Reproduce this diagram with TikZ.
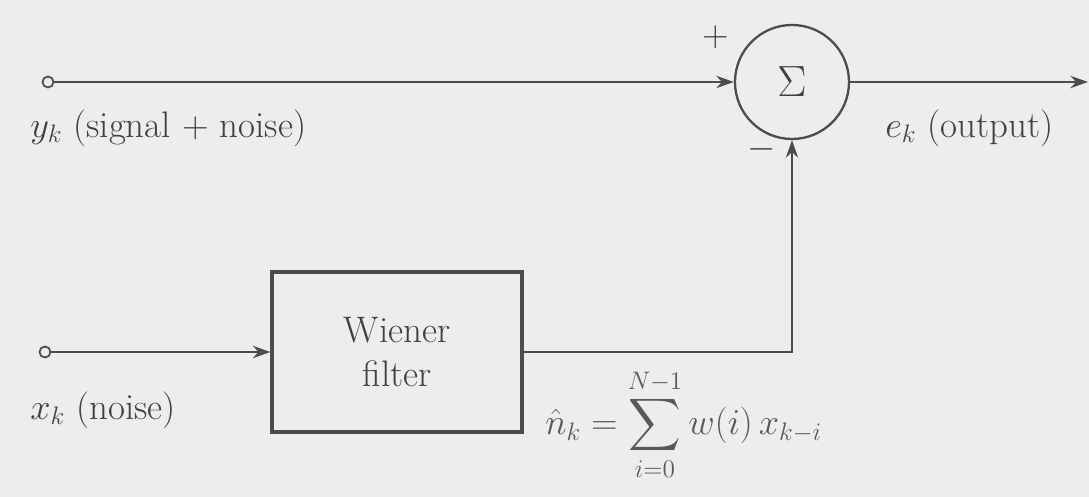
\documentclass[tikz,border=0pt]{standalone}
\usepackage{amsmath}
\usetikzlibrary{arrows.meta}

\tikzset{
  sig/.style={draw=black!70, line width=1.3pt, -{Stealth[length=10pt,width=7pt]}},
  term/.style={circle, draw=black!70, line width=1pt, inner sep=0pt, minimum size=0.22cm},
  lbl/.style={anchor=west, inner sep=0pt, text=black!75, font=\fontsize{21}{25}\selectfont},
}

\begin{document}
\begin{tikzpicture}
  % Background
  \fill[black!7] (0,0) rectangle (21.78,9.94);
  \useasboundingbox (0,0) rectangle (21.78,9.94);

  % Summing junction
  \node[circle, draw=black!70, line width=1.3pt, minimum size=2.28cm, inner sep=0pt,
        text=black!75, font=\fontsize{26}{30}\selectfont] (sum) at (15.84,8.3) {$\Sigma$};

  % Wiener filter box
  \node[draw=black!70, line width=1.8pt, minimum width=5cm, minimum height=3.2cm,
        align=center, text=black!75, font=\fontsize{21}{25}\selectfont] (wf) at (7.94,2.9) {Wiener\\filter};

  % Input terminals
  \node[term] (yin) at (0.96,8.3) {};
  \node[term] (xin) at (0.9,2.9) {};
  \coordinate (out) at (21.76,8.3);
  \coordinate (turn) at (sum.center |- wf.east);

  % Signal paths
  \draw[sig] (yin) -- (sum);
  \draw[sig] (xin) -- (wf);
  \draw[sig] (wf.east) -- (turn) -- (sum.south);
  \draw[sig] (sum) -- (out);

  % Labels
  \node[lbl] (ylab) at (0.6,7.38) {$y_k$ (signal + noise)};
  \node[lbl] (xlab) at (0.6,1.74) {$x_k$ (noise)};
  \node[lbl] (elab) at (17.7,7.38) {$e_k$ (output)};
  \node[lbl] (plus) at (14.05,9.2) {+};
  \node[lbl] (minus) at (14.95,6.95) {$-$};
  \node[lbl, text=black!65, font=\fontsize{20}{24}\selectfont] (nhat) at (10.9,1.45)
    {$\displaystyle \hat{n}_k=\sum_{i=0}^{N-1} w(i)\,x_{k-i}$};
\end{tikzpicture}
\end{document}
